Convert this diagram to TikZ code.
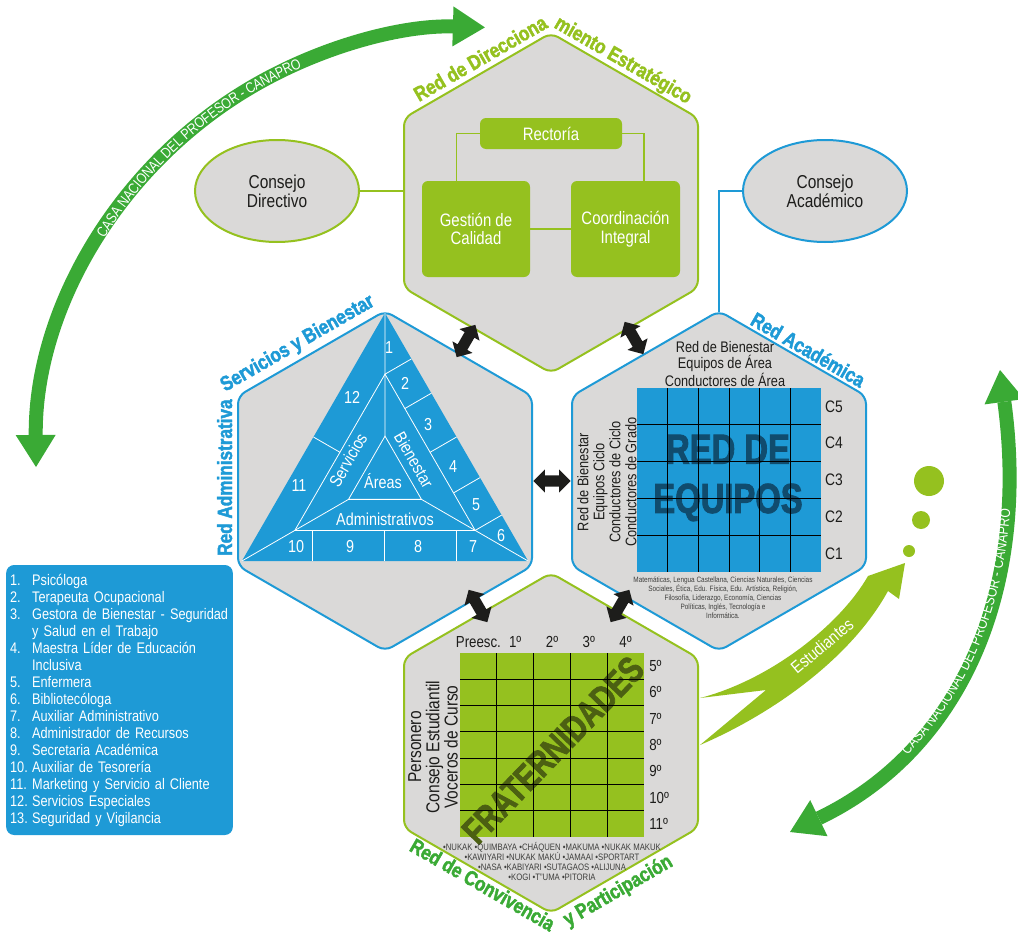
\documentclass[tikz,border=0pt]{standalone}
\usepackage{fontspec}
\setmainfont{Liberation Sans}[FakeStretch=0.83]
\newfontfamily\titlecond{Liberation Sans Bold}[FakeStretch=0.83, FakeBold=2]
\newfontfamily\heavycond{Liberation Sans Bold}[FakeStretch=0.78, FakeBold=2]
\usetikzlibrary{arrows.meta,calc,shapes.geometric,shapes.arrows,decorations.text}

\definecolor{hexgray}{RGB}{218,217,216}
\definecolor{lime}{RGB}{149,193,31}
\definecolor{canablue}{RGB}{30,154,214}
\definecolor{arcgreen}{RGB}{58,170,53}
\definecolor{inkgray}{RGB}{29,29,27}
\definecolor{equiposblue}{RGB}{16,76,110}
\definecolor{fratolive}{RGB}{76,96,18}

\newcommand{\lnum}[1]{\makebox[16.5pt][l]{#1}}

\tikzset{
  hexa/.pic={\path[pic actions] (0,-170) -- (147,-85) -- (147,85) -- (0,170) -- (-147,85) -- (-147,-85) -- cycle;},
  hexlime/.style={draw=lime, fill=hexgray, line width=1.5pt, rounded corners=6pt},
  hexblue/.style={draw=canablue, fill=hexgray, line width=1.5pt, rounded corners=6pt},
  hextitle/.style={inner sep=0pt, font=\titlecond\fontsize{15.5}{16}\selectfont},
  limebox/.style={fill=lime, rounded corners=4.5pt, text=white, align=center, inner sep=0pt, font=\fontsize{13.5}{14}\selectfont},
  council/.style={ellipse, fill=hexgray, line width=1.5pt, minimum width=123pt, minimum height=76.5pt, inner sep=0pt, align=center, text=inkgray, font=\fontsize{14}{14.5}\selectfont},
  link/.style={line width=1.2pt},
  trinum/.style={text=white, inner sep=0pt, font=\fontsize{13}{13}\selectfont},
  triline/.style={draw=white, line width=0.6pt},
  gridline/.style={draw=black, line width=0.7pt},
  hexlabel/.style={text=inkgray, inner sep=0pt, align=center, font=\fontsize{11.5}{12}\selectfont},
  gradelabel/.style={text=inkgray, inner sep=0pt, font=\fontsize{12}{12}\selectfont},
  smallnote/.style={text=inkgray!85, inner sep=0pt, align=center},
  dblarrow/.style={double arrow, fill=inkgray, minimum height=28pt, inner xsep=0pt, inner ysep=4pt, double arrow head extend=4.5pt},
  arcband/.style={draw=arcgreen, line width=10.5pt, >={Triangle[length=24pt,width=30pt,line width=0pt]}, <->},
  arctext/.style={decorate, decoration={text along path, text align={center, left indent=#1}, raise=-3.9pt, text color=white,
    text={|\fontsize{11}{11}\selectfont|CASA NACIONAL DEL PROFESOR - CANAPRO}}},
  arctext/.default=0pt,
  legend/.style={fill=canablue, rounded corners=6pt, text=white, align=left, text width=164pt, inner xsep=3pt, minimum height=202.5pt, font=\fontsize{11.5}{12.75}\selectfont}
}

\begin{document}
\begin{tikzpicture}[x=0.75pt,y=0.75pt,yscale=-1,xscale=1]
\useasboundingbox (0,0) rectangle (1018,935);

%Curve Lines: CANAPRO arcs
\coordinate (arcLs) at (36,467);
\draw[arcband] (arcLs) arc[start angle=179.5, end angle=271.7, radius=436];
\path[arctext=40pt] (arcLs) arc[start angle=179.5, end angle=271.7, radius=436];
\coordinate (arcRs) at (790,832);
\coordinate (arcRe) at (1000,370);
\draw[arcband] (arcRs) .. controls (961,750) and (1030,590) .. (arcRe);
\path[arctext] (arcRs) .. controls (961,750) and (1030,590) .. (arcRe);

%Shape: Hexagons
\coordinate (hexTop) at (551,203);
\coordinate (hexLeft) at (385,481);
\coordinate (hexRight) at (719,481);
\coordinate (hexBottom) at (551,743);
\pic[hexlime] at (hexTop) {hexa};
\pic[hexblue] at (hexLeft) {hexa};
\pic[hexblue] at (hexRight) {hexa};
\pic[hexlime] at (hexBottom) {hexa};

% Text Node: titles
\node[hextitle, text=lime, anchor=base east, rotate=30] (titTopA) at (549,27) {Red de Direcciona};
\node[hextitle, text=lime, anchor=base west, rotate=-30] (titTopB) at (553,27) {miento Estratégico};
\node[hextitle, text=canablue, anchor=base west, rotate=90] (titLeftA) at (232,556) {Red Administrativa};
\node[hextitle, text=canablue, anchor=base west, rotate=30] (titLeftB) at (225,392) {Servicios y Bienestar};
\node[hextitle, text=canablue, anchor=base west, rotate=-30] (titRight) at (749,324) {Red Académica};
\node[hextitle, text=arcgreen, anchor=base, rotate=-30] (titBotA) at (479,891) {Red de Convivencia};
\node[hextitle, text=arcgreen, anchor=base, rotate=30] (titBotB) at (621,896) {y Participación};

%Top hexagon: direction
\node[limebox, minimum width=106.5pt, minimum height=23.25pt] (rectoria) at (551,133.5) {Rectoría};
\node[limebox, minimum width=81pt, minimum height=72pt] (gestion) at (476,229) {Gestión de\\Calidad};
\node[limebox, minimum width=81.75pt, minimum height=72pt] (coordina) at (625.5,229) {Coordinación\\Integral};
\draw[lime, link] (rectoria.west) -| ($(gestion.north west)!0.32!(gestion.north east)$);
\draw[lime, link] (rectoria.east) -| ($(coordina.north west)!0.67!(coordina.north east)$);
\draw[lime, link] (gestion.east) -- (coordina.west);

%Councils
\node[council, draw=lime] (dirCouncil) at (277,191) {Consejo\\Directivo};
\node[council, draw=canablue] (acadCouncil) at (825,191) {Consejo\\Académico};
\coordinate (topWest) at (404,191);
\coordinate (rightApex) at (719,312);
\draw[lime, line width=1.5pt] (dirCouncil.east) -- (topWest);
\draw[canablue, line width=1.5pt] (acadCouncil.west) -| (rightApex);

%Left hexagon: triangle
\coordinate (triG) at (385,478.3);
\coordinate (triA) at (385,313);
\coordinate (triL) at (241.9,561);
\coordinate (triR) at (528.1,561);
\coordinate (ringA) at ($(triG)!0.63!(triA)$);
\coordinate (ringL) at ($(triG)!0.63!(triL)$);
\coordinate (ringR) at ($(triG)!0.63!(triR)$);
\coordinate (coreA) at ($(triG)!0.255!(triA)$);
\coordinate (coreL) at ($(triG)!0.255!(triL)$);
\coordinate (coreR) at ($(triG)!0.255!(triR)$);
\fill[canablue] (triA) -- (triL) -- (triR) -- cycle;
\draw[triline] (ringA) -- (ringL) -- (ringR) -- cycle;
\draw[triline] (coreA) -- (coreL) -- (coreR) -- cycle;
\draw[triline] (triA) -- (ringA) -- (coreA) (triL) -- (ringL) -- (coreL) (triR) -- (ringR) -- (coreR);
\foreach \t in {0,0.22,0.5,0.76,1}{
  \coordinate (cut) at ($(ringA)!\t!(ringR)$);
  \draw[triline] (cut) -- ($(triA)!(cut)!(triR)$);
}
\coordinate (cut) at ($(ringA)!0.5!(ringL)$);
\draw[triline] (cut) -- ($(triA)!(cut)!(triL)$);
\foreach \t in {0.095,0.495,0.895}{
  \coordinate (cut) at ($(ringL)!\t!(ringR)$);
  \draw[triline] (cut) -- ($(triL)!(cut)!(triR)$);
}
\foreach \n/\x/\y in {1/389/348, 2/405/383, 3/428/425, 4/453/467, 5/476/505, 6/501/536, 7/473/547, 8/418/547, 9/350/547, 10/296/547, 11/299/486, 12/352/397}
  \node[trinum] (num\n) at (\x,\y) {\n};
\node[trinum, rotate=60] (triServ) at (348,460) {Servicios};
\node[trinum, rotate=-60] (triBien) at (414,460) {Bienestar};
\node[trinum] (triAdmin) at (385,519) {Administrativos};
\node[trinum] (triAreas) at (383,481) {Áreas};

%Right hexagon: teams grid
\fill[canablue] (637,388) rectangle (821,572);
\node[text=equiposblue, inner sep=0pt, align=center, font=\heavycond\fontsize{31.5}{37}\selectfont] (redEquipos) at (728,478) {RED DE\\EQUIPOS};
\foreach \i in {1,...,5}
  \draw[gridline] (637+\i*30.667,388) -- (637+\i*30.667,572);
\foreach \j in {1,...,4}
  \draw[gridline] (637,388+\j*36.8) -- (821,388+\j*36.8);
\foreach \c [count=\k] in {5,4,3,2,1}
  \node[gradelabel, font=\fontsize{12.5}{12.5}\selectfont] (cycle\c) at (834,388+\k*36.8-18.4) {C\c};
\node[hexlabel] (areaNote) at (725,364) {Red de Bienestar\\Equipos de Área\\Conductores de Área};
\node[hexlabel, rotate=90] (cycleNote) at (607,482) {Red de Bienestar\\Equipos Ciclo\\Conductores de Ciclo\\Conductores de Grado};
\node[smallnote, font=\fontsize{5.8}{6.7}\selectfont] (subjectNote) at (723,598) {Matemáticas, Lengua Castellana, Ciencias Naturales, Ciencias\\Sociales, Ética, Edu. Física, Edu. Artística, Religión,\\Filosofía, Liderazgo, Economía, Ciencias\\Políticas, Inglés, Tecnología e\\Informática.};

%Bottom hexagon: fraternities grid
\fill[lime] (460,653) rectangle (644,837);
\node[text=fratolive, inner sep=0pt, rotate=46, font=\heavycond\fontsize{27.5}{28}\selectfont] (fraternidades) at (553,750) {FRATERNIDADES};
\foreach \i in {1,...,4}
  \draw[gridline] (460+\i*36.8,653) -- (460+\i*36.8,837);
\foreach \j in {1,...,6}
  \draw[gridline] (460,653+\j*26.286) -- (644,653+\j*26.286);
\foreach \g [count=\k] in {Preesc.,1º,2º,3º,4º}
  \node[gradelabel] (col\k) at (460+\k*36.8-18.4,642) {\g};
\foreach \g [count=\k] in {5º,6º,7º,8º,9º,10º,11º}
  \node[gradelabel, anchor=west] (row\k) at (649,653+\k*26.286-13.14) {\g};
\node[hexlabel, rotate=90, font=\fontsize{14}{13.75}\selectfont] (roleNote) at (433,747) {Personero\\Consejo Estudiantil\\Voceros de Curso};
\node[smallnote, font=\fontsize{7}{7.5}\selectfont] (tribeNote) at (552,861) {•NUKAK •QUIMBAYA •CHÁQUEN •MAKUMA •NUKAK MAKUK\\•KAWIYARI •NUKAK MAKÚ •JAMAAI •SPORTART\\•NASA •KABIYARI •SUTAGAOS •ALIJUNA\\•KOGI •T"UMA •PITORIA};

%Students arrow
\coordinate (stuTop) at (700,698);
\coordinate (stuNotch) at (766,690);
\coordinate (stuBot) at (700,745);
\coordinate (stuHeadL) at (868,576);
\coordinate (stuTip) at (905,563);
\coordinate (stuHeadR) at (899,599);
\coordinate (stuJoin) at (888,591);
\fill[lime] (stuTop) .. controls (770,680) and (840,625) .. (stuHeadL) -- (stuTip) -- (stuHeadR) -- (stuJoin) .. controls (850,660) and (770,715) .. (stuBot) -- (stuNotch) -- cycle;
\node[text=white, inner sep=0pt, rotate=40, font=\fontsize{13}{13}\selectfont] (stuLabel) at (822,646) {Estudiantes};
\fill[lime] (929,481) circle[radius=15];
\fill[lime] (921,520) circle[radius=9];
\fill[lime] (909,551) circle[radius=6];

%Legend
\node[legend] (legendBox) at (119.5,700) {\lnum{1.}Psicóloga\\\lnum{2.}Terapeuta Ocupacional\\\lnum{3.}Gestora de Bienestar - Seguridad\\\lnum{}y Salud en el Trabajo\\\lnum{4.}Maestra Líder de Educación\\\lnum{}Inclusiva\\\lnum{5.}Enfermera\\\lnum{6.}Bibliotecóloga\\\lnum{7.}Auxiliar Administrativo\\\lnum{8.}Administrador de Recursos\\\lnum{9.}Secretaria Académica\\\lnum{10.}Auxiliar de Tesorería\\\lnum{11.}Marketing y Servicio al Cliente\\\lnum{12.}Servicios Especiales\\\lnum{13.}Seguridad y Vigilancia};

%Double arrows between networks
\node[dblarrow, rotate=60] (linkTL) at (466,341) {};
\node[dblarrow, rotate=-60] (linkTR) at (634,338) {};
\node[dblarrow] (linkLR) at (552,481) {};
\node[dblarrow, rotate=-60] (linkLB) at (478,606) {};
\node[dblarrow, rotate=60] (linkRB) at (620,606) {};

\end{tikzpicture}
\end{document}
